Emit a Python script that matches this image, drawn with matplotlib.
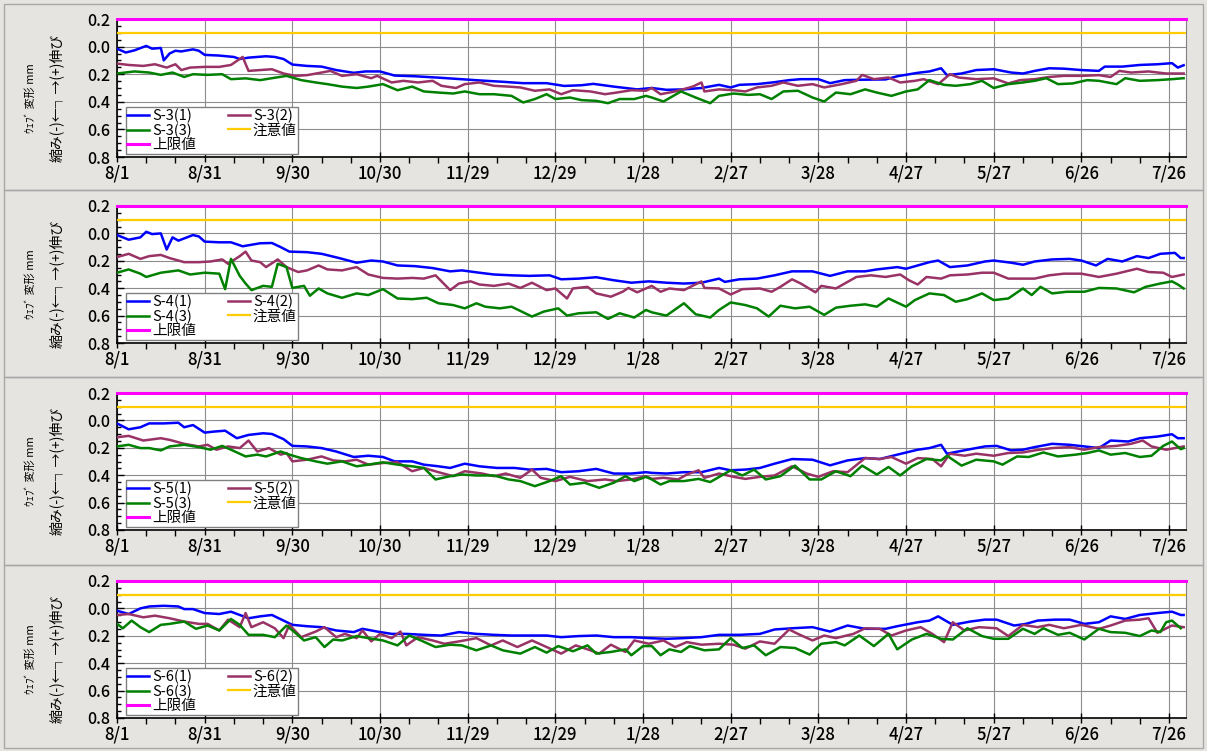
import matplotlib
matplotlib.use('Agg')
import matplotlib.pyplot as plt
from matplotlib.patches import Rectangle
from matplotlib.ticker import MultipleLocator, FixedLocator, FuncFormatter

plt.rcParams['font.family'] = ['Noto Sans CJK JP', 'DejaVu Sans']

# x = days since 8/1, y = web deformation (mm)
TICK_LABELS = ['8/1', '8/31', '9/30', '10/30', '11/29', '12/29', '1/28',
               '2/27', '3/28', '4/27', '5/27', '6/26', '7/26']
LIMIT = 0.2      # 上限値
CAUTION = 0.1    # 注意値

S3_1 = [(0,-0.015),(3,-0.043),(6,-0.027),(10,0.005),(12,-0.015),(15,-0.01),(16,-0.10),(18,-0.05),(20,-0.03),(22,-0.035),
        (26,-0.02),(28,-0.03),(30,-0.06),(35,-0.065),(40,-0.075),(42,-0.09),(45,-0.08),(51,-0.07),(54,-0.075),(57,-0.09),
        (60,-0.13),(65,-0.14),(70,-0.145),(75,-0.17),(81,-0.19),(85,-0.18),(90,-0.18),(95,-0.21),(102,-0.215),(110,-0.225),
        (117,-0.235),(124,-0.245),(132,-0.255),(139,-0.265),(147,-0.265),(153,-0.285),(159,-0.28),(163,-0.27),(170,-0.29),(178,-0.31),
        (183,-0.30),(188,-0.313),(194,-0.31),(200,-0.30),(206,-0.277),(210,-0.296),(213,-0.277),(219,-0.272),(225,-0.258),(230,-0.243),
        (234,-0.236),(240,-0.236),(244,-0.265),(249,-0.243),(255,-0.24),(263,-0.238),(267,-0.215),(274,-0.19),(278,-0.18),(282,-0.157),
        (284,-0.207),(289,-0.195),(294,-0.17),(300,-0.164),(306,-0.188),(310,-0.195),(314,-0.176),(319,-0.157),(324,-0.16),(330,-0.17),
        (336,-0.176),(338,-0.145),(344,-0.145),(350,-0.133),(356,-0.128),(361,-0.12),(363,-0.152),(365,-0.135)]
S3_2 = [(0,-0.123),(4,-0.133),(9,-0.14),(13,-0.128),(17,-0.152),(20,-0.128),(22,-0.17),(25,-0.152),(30,-0.147),(35,-0.147),
        (39,-0.133),(43,-0.075),(45,-0.176),(49,-0.17),(53,-0.164),(57,-0.195),(61,-0.212),(65,-0.207),(70,-0.188),(73,-0.176),
        (77,-0.212),(82,-0.2),(87,-0.229),(89,-0.212),(94,-0.26),(98,-0.248),(103,-0.26),(108,-0.248),(111,-0.284),(116,-0.30),
        (119,-0.272),(124,-0.26),(129,-0.284),(134,-0.29),(138,-0.296),(143,-0.32),(148,-0.31),(152,-0.345),(156,-0.316),(162,-0.325),
        (167,-0.345),(171,-0.333),(176,-0.316),(181,-0.32),(183,-0.30),(186,-0.345),(191,-0.325),(197,-0.29),(200,-0.26),(201,-0.325),
        (206,-0.31),(211,-0.316),(215,-0.325),(219,-0.296),(224,-0.284),(228,-0.26),(233,-0.284),(238,-0.272),(242,-0.296),(248,-0.272),
        (253,-0.248),(255,-0.205),(259,-0.236),(264,-0.224),(268,-0.26),(273,-0.248),(276,-0.236),(281,-0.272),(285,-0.2),(288,-0.224),
        (294,-0.236),(300,-0.23),(305,-0.267),(309,-0.243),(314,-0.236),(319,-0.22),(324,-0.212),(330,-0.212),(336,-0.207),(340,-0.22),
        (343,-0.176),(347,-0.188),(353,-0.18),(359,-0.195),(365,-0.195)]
S3_3 = [(0,-0.195),(6,-0.18),(11,-0.188),(15,-0.205),(19,-0.188),(23,-0.22),(26,-0.2),(31,-0.205),(36,-0.2),(39,-0.236),
        (44,-0.23),(49,-0.243),(53,-0.229),(58,-0.212),(63,-0.243),(68,-0.26),(72,-0.272),(77,-0.29),(82,-0.30),(86,-0.29),
        (91,-0.272),(96,-0.316),(101,-0.29),(105,-0.325),(110,-0.333),(115,-0.34),(119,-0.325),(124,-0.345),(129,-0.345),(135,-0.357),
        (139,-0.405),(143,-0.38),(147,-0.345),(150,-0.38),(155,-0.369),(159,-0.388),(164,-0.393),(168,-0.41),(172,-0.38),(177,-0.38),
        (181,-0.357),(183,-0.369),(187,-0.398),(193,-0.325),(198,-0.369),(203,-0.41),(206,-0.357),(211,-0.34),(216,-0.35),(220,-0.345),
        (224,-0.38),(228,-0.325),(233,-0.32),(238,-0.369),(242,-0.398),(246,-0.333),(251,-0.345),(256,-0.31),(260,-0.333),(265,-0.357),
        (270,-0.325),(274,-0.31),(278,-0.243),(283,-0.277),(287,-0.284),(292,-0.272),(296,-0.248),(300,-0.30),(305,-0.272),(310,-0.26),
        (314,-0.248),(318,-0.229),(322,-0.272),(327,-0.267),(332,-0.243),(336,-0.248),(342,-0.272),(345,-0.229),(350,-0.248),(356,-0.243),
        (361,-0.236),(365,-0.229)]

S4_1 = [(0,-0.012),(4,-0.046),(8,-0.029),(10,0.012),(12,-0.005),(15,0.0),(17,-0.118),(19,-0.029),(21,-0.053),(26,-0.012),
        (28,-0.022),(30,-0.06),(35,-0.065),(39,-0.065),(43,-0.094),(49,-0.072),(53,-0.07),(56,-0.10),(59,-0.133),(65,-0.137),
        (70,-0.149),(76,-0.18),(82,-0.214),(87,-0.198),(91,-0.205),(96,-0.234),(102,-0.239),(108,-0.253),(114,-0.277),(118,-0.27),
        (124,-0.287),(129,-0.30),(135,-0.306),(141,-0.31),(148,-0.306),(152,-0.335),(158,-0.33),(164,-0.32),(170,-0.342),(176,-0.36),
        (182,-0.35),(188,-0.36),(194,-0.366),(200,-0.36),(206,-0.33),(208,-0.354),(213,-0.335),(219,-0.33),(225,-0.306),(231,-0.277),
        (238,-0.277),(244,-0.31),(250,-0.277),(256,-0.277),(260,-0.263),(267,-0.246),(270,-0.258),(274,-0.234),(278,-0.21),(281,-0.198),
        (285,-0.246),(291,-0.234),(297,-0.205),(300,-0.198),(306,-0.214),(310,-0.229),(314,-0.205),(320,-0.19),(326,-0.186),(330,-0.198),
        (335,-0.234),(339,-0.186),(344,-0.205),(349,-0.166),(353,-0.18),(357,-0.149),(362,-0.142),(364,-0.18),(365,-0.18)]
S4_2 = [(0,-0.173),(4,-0.149),(8,-0.186),(11,-0.166),(15,-0.157),(18,-0.18),(23,-0.21),(28,-0.21),(32,-0.205),(36,-0.19),
        (38,-0.222),(42,-0.166),(44,-0.133),(46,-0.198),(49,-0.21),(51,-0.246),(55,-0.19),(58,-0.246),(62,-0.282),(65,-0.27),
        (69,-0.234),(72,-0.263),(77,-0.27),(82,-0.246),(86,-0.30),(91,-0.325),(96,-0.33),(101,-0.325),(105,-0.33),(109,-0.306),
        (114,-0.414),(117,-0.366),(121,-0.35),(124,-0.373),(129,-0.383),(134,-0.366),(138,-0.398),(142,-0.36),(147,-0.414),(150,-0.402),
        (154,-0.475),(156,-0.402),(161,-0.39),(164,-0.438),(169,-0.462),(173,-0.426),(175,-0.398),(178,-0.43),(183,-0.383),(186,-0.426),
        (189,-0.402),(194,-0.414),(200,-0.35),(201,-0.398),(206,-0.402),(210,-0.446),(214,-0.407),(220,-0.402),(224,-0.426),(227,-0.39),
        (231,-0.335),(234,-0.366),(239,-0.43),(241,-0.383),(246,-0.402),(250,-0.354),(253,-0.318),(258,-0.306),(263,-0.318),(268,-0.30),
        (271,-0.342),(274,-0.373),(277,-0.318),(282,-0.33),(285,-0.306),(291,-0.30),(296,-0.287),(300,-0.287),(305,-0.33),(310,-0.33),
        (314,-0.33),(319,-0.306),(324,-0.294),(330,-0.294),(336,-0.318),(342,-0.294),(349,-0.258),(353,-0.282),(358,-0.287),(361,-0.318),
        (365,-0.30)]
S4_3 = [(0,-0.287),(4,-0.263),(8,-0.294),(10,-0.318),(15,-0.287),(21,-0.27),(25,-0.30),(30,-0.287),(35,-0.294),(37,-0.407),
        (39,-0.186),(42,-0.31),(44,-0.366),(46,-0.414),(50,-0.383),(53,-0.39),(55,-0.222),(58,-0.246),(60,-0.398),(64,-0.383),
        (66,-0.455),(69,-0.402),(72,-0.438),(77,-0.47),(82,-0.438),(86,-0.45),(91,-0.407),(96,-0.475),(101,-0.48),(106,-0.47),
        (110,-0.51),(115,-0.523),(119,-0.547),(123,-0.51),(126,-0.535),(131,-0.547),(135,-0.535),(139,-0.576),(142,-0.607),(146,-0.571),
        (151,-0.547),(154,-0.60),(158,-0.583),(164,-0.576),(168,-0.624),(172,-0.583),(177,-0.614),(181,-0.559),(183,-0.576),(188,-0.60),
        (194,-0.51),(198,-0.59),(203,-0.614),(206,-0.559),(210,-0.504),(215,-0.523),(219,-0.547),(223,-0.607),(227,-0.528),(232,-0.547),
        (237,-0.535),(242,-0.595),(246,-0.542),(251,-0.528),(256,-0.518),(260,-0.535),(264,-0.475),(270,-0.535),(273,-0.487),(278,-0.438),
        (283,-0.45),(287,-0.499),(291,-0.48),(296,-0.438),(300,-0.487),(305,-0.475),(310,-0.402),(313,-0.45),(316,-0.39),(320,-0.438),
        (325,-0.426),(331,-0.426),(336,-0.398),(342,-0.402),(348,-0.43),(352,-0.39),(357,-0.366),(361,-0.35),(363,-0.373),(365,-0.402)]

S5_1 = [(0,-0.022),(4,-0.065),(8,-0.05),(11,-0.022),(16,-0.022),(21,-0.017),(23,-0.05),(26,-0.034),(30,-0.089),(33,-0.082),
        (37,-0.075),(41,-0.13),(45,-0.106),(50,-0.094),(53,-0.099),(57,-0.137),(60,-0.186),(65,-0.19),(70,-0.202),(75,-0.227),
        (81,-0.267),(86,-0.258),(91,-0.267),(95,-0.299),(101,-0.299),(105,-0.323),(110,-0.335),(114,-0.347),(119,-0.316),(124,-0.335),
        (130,-0.347),(136,-0.347),(141,-0.359),(147,-0.354),(152,-0.378),(158,-0.371),(164,-0.354),(170,-0.388),(176,-0.388),(181,-0.378),
        (183,-0.383),(188,-0.388),(194,-0.378),(200,-0.378),(206,-0.347),(210,-0.364),(215,-0.359),(220,-0.347),(225,-0.316),(231,-0.282),
        (238,-0.287),(244,-0.328),(250,-0.292),(256,-0.275),(261,-0.282),(267,-0.25),(274,-0.214),(278,-0.202),(282,-0.178),(284,-0.243),
        (291,-0.214),(297,-0.19),(301,-0.186),(306,-0.219),(310,-0.214),(314,-0.195),(320,-0.171),(326,-0.178),(331,-0.19),(336,-0.202),
        (340,-0.147),(346,-0.154),(350,-0.13),(356,-0.118),(361,-0.101),(363,-0.13),(365,-0.13)]
S5_2 = [(0,-0.123),(4,-0.113),(9,-0.147),(15,-0.13),(18,-0.142),(23,-0.171),(28,-0.19),(31,-0.178),(34,-0.214),(38,-0.19),
        (42,-0.202),(45,-0.147),(48,-0.227),(52,-0.202),(56,-0.25),(58,-0.238),(60,-0.299),(65,-0.287),(70,-0.263),(74,-0.292),
        (78,-0.299),(82,-0.287),(86,-0.323),(91,-0.311),(96,-0.306),(101,-0.371),(105,-0.347),(110,-0.378),(115,-0.407),(119,-0.371),
        (125,-0.388),(129,-0.407),(133,-0.388),(138,-0.419),(142,-0.359),(145,-0.419),(150,-0.443),(155,-0.412),(161,-0.443),(167,-0.431),
        (171,-0.443),(176,-0.431),(181,-0.407),(183,-0.427),(187,-0.419),(192,-0.431),(195,-0.395),(199,-0.364),(201,-0.419),(206,-0.388),
        (211,-0.412),(215,-0.427),(220,-0.412),(225,-0.402),(231,-0.335),(236,-0.388),(240,-0.412),(245,-0.371),(250,-0.378),(256,-0.275),
        (261,-0.282),(265,-0.267),(270,-0.316),(274,-0.275),(279,-0.282),(282,-0.335),(285,-0.243),(290,-0.258),(294,-0.243),(300,-0.258),
        (305,-0.238),(310,-0.234),(314,-0.219),(320,-0.202),(326,-0.195),(331,-0.214),(336,-0.195),(342,-0.186),(347,-0.171),(351,-0.147),
        (354,-0.19),(359,-0.214),(365,-0.19)]
S5_3 = [(0,-0.19),(4,-0.178),(8,-0.202),(11,-0.202),(15,-0.219),(18,-0.19),(23,-0.178),(28,-0.195),(32,-0.214),(36,-0.186),
        (39,-0.214),(44,-0.263),(48,-0.25),(51,-0.263),(56,-0.227),(59,-0.25),(63,-0.275),(68,-0.299),(72,-0.316),(77,-0.299),
        (82,-0.335),(86,-0.323),(91,-0.306),(96,-0.323),(101,-0.335),(105,-0.347),(109,-0.431),(114,-0.407),(118,-0.395),(123,-0.402),
        (129,-0.402),(134,-0.431),(138,-0.443),(143,-0.48),(148,-0.443),(152,-0.407),(155,-0.468),(160,-0.455),(165,-0.492),(170,-0.455),
        (174,-0.407),(177,-0.443),(181,-0.412),(183,-0.431),(186,-0.468),(189,-0.443),(194,-0.443),(199,-0.427),(203,-0.45),(210,-0.364),
        (214,-0.402),(218,-0.359),(222,-0.431),(227,-0.407),(232,-0.33),(237,-0.431),(241,-0.431),(246,-0.371),(251,-0.407),(255,-0.33),
        (260,-0.395),(264,-0.34),(268,-0.402),(272,-0.335),(277,-0.282),(282,-0.292),(284,-0.258),(289,-0.33),(294,-0.287),(300,-0.299),
        (303,-0.323),(308,-0.263),(312,-0.267),(317,-0.234),(322,-0.263),(328,-0.25),(332,-0.238),(336,-0.219),(340,-0.25),(345,-0.238),
        (350,-0.267),(354,-0.258),(358,-0.186),(361,-0.154),(364,-0.21),(365,-0.202)]

S6_1 = [(0,-0.017),(4,-0.041),(8,0.0),(11,0.014),(16,0.019),(21,0.014),(23,-0.005),(26,-0.005),(30,-0.034),(35,-0.041),
        (39,-0.024),(45,-0.072),(49,-0.058),(53,-0.048),(57,-0.089),(60,-0.12),(65,-0.13),(70,-0.137),(75,-0.161),(81,-0.173),
        (84,-0.149),(89,-0.169),(94,-0.186),(99,-0.186),(105,-0.193),(111,-0.198),(117,-0.173),(123,-0.186),(129,-0.193),(135,-0.198),
        (141,-0.198),(147,-0.198),(152,-0.21),(158,-0.202),(164,-0.198),(170,-0.21),(176,-0.21),(182,-0.217),(188,-0.222),(194,-0.217),
        (200,-0.21),(206,-0.193),(213,-0.193),(220,-0.186),(225,-0.154),(231,-0.145),(238,-0.137),(244,-0.169),(250,-0.125),(256,-0.149),
        (263,-0.149),(267,-0.13),(274,-0.101),(278,-0.089),(281,-0.058),(286,-0.12),(292,-0.096),(297,-0.082),(301,-0.082),(307,-0.125),
        (311,-0.113),(315,-0.089),(321,-0.082),(326,-0.082),(331,-0.113),(336,-0.101),(340,-0.058),(345,-0.077),(350,-0.048),(356,-0.034),
        (361,-0.024),(364,-0.048),(365,-0.048)]
S6_2 = [(0,-0.048),(4,-0.041),(9,-0.065),(13,-0.053),(18,-0.072),(23,-0.096),(28,-0.113),(31,-0.113),(35,-0.161),(38,-0.082),
        (42,-0.137),(44,-0.034),(46,-0.137),(50,-0.101),(54,-0.145),(57,-0.217),(59,-0.12),(63,-0.21),(68,-0.169),(71,-0.137),
        (75,-0.21),(78,-0.186),(82,-0.217),(84,-0.161),(87,-0.241),(90,-0.186),(94,-0.217),(97,-0.169),(99,-0.27),(103,-0.21),
        (108,-0.234),(112,-0.258),(117,-0.241),(123,-0.217),(128,-0.27),(132,-0.234),(137,-0.282),(142,-0.234),(147,-0.282),(152,-0.33),
        (157,-0.27),(162,-0.306),(165,-0.33),(169,-0.265),(174,-0.318),(177,-0.234),(182,-0.258),(187,-0.234),(191,-0.282),(195,-0.246),
        (200,-0.265),(206,-0.258),(211,-0.265),(215,-0.294),(220,-0.241),(225,-0.258),(230,-0.154),(233,-0.186),(238,-0.234),(242,-0.198),
        (246,-0.217),(252,-0.186),(256,-0.145),(261,-0.149),(265,-0.198),(270,-0.161),(275,-0.137),(279,-0.186),(283,-0.246),(286,-0.101),
        (290,-0.161),(295,-0.137),(301,-0.145),(305,-0.202),(310,-0.12),(315,-0.137),(319,-0.12),(324,-0.145),(330,-0.12),(336,-0.149),
        (340,-0.125),(345,-0.089),(350,-0.082),(353,-0.072),(356,-0.178),(361,-0.125),(365,-0.137)]
S6_3 = [(0,-0.113),(2,-0.145),(5,-0.089),(8,-0.137),(11,-0.173),(15,-0.12),(18,-0.113),(23,-0.096),(27,-0.149),(31,-0.125),
        (35,-0.161),(39,-0.077),(42,-0.12),(45,-0.193),(50,-0.193),(54,-0.21),(58,-0.125),(61,-0.178),(64,-0.234),(68,-0.21),
        (71,-0.282),(74,-0.227),(77,-0.234),(82,-0.202),(86,-0.217),(91,-0.234),(96,-0.27),(100,-0.198),(104,-0.234),(109,-0.282),
        (114,-0.265),(118,-0.27),(123,-0.306),(128,-0.27),(132,-0.306),(138,-0.33),(143,-0.282),(147,-0.323),(151,-0.275),(156,-0.313),
        (161,-0.27),(164,-0.33),(169,-0.318),(174,-0.299),(176,-0.342),(180,-0.275),(183,-0.275),(186,-0.342),(189,-0.299),(193,-0.318),
        (196,-0.275),(201,-0.306),(206,-0.299),(210,-0.217),(214,-0.289),(218,-0.27),(222,-0.342),(227,-0.282),(232,-0.289),(237,-0.337),
        (241,-0.258),(246,-0.246),(249,-0.27),(254,-0.198),(259,-0.275),(264,-0.186),(267,-0.299),(272,-0.227),(277,-0.186),(282,-0.222),
        (286,-0.227),(291,-0.145),(296,-0.202),(300,-0.222),(305,-0.222),(310,-0.149),(314,-0.186),(317,-0.145),(322,-0.193),(326,-0.178),
        (331,-0.227),(336,-0.149),(340,-0.173),(345,-0.178),(350,-0.202),(354,-0.161),(357,-0.173),(359,-0.101),(361,-0.089),(364,-0.145)]

groups = [('S-3', S3_1, S3_2, S3_3),
          ('S-4', S4_1, S4_2, S4_3),
          ('S-5', S5_1, S5_2, S5_3),
          ('S-6', S6_1, S6_2, S6_3)]
colors = ['#0000ff', '#993366', '#008000']

W, H = 1207, 751
fig = plt.figure(figsize=(W / 100, H / 100), dpi=100)
fig.patch.set_facecolor('#e5e4e0')

# panel frames and axes boxes, in pixels from the top
frames = [(4, 190), (190, 377), (377, 565), (565, 748)]
boxes = [(19, 157), (206, 343), (393, 530), (581, 718)]
left, right = 117, 1186

for (ft, fb) in frames:
    fig.add_artist(Rectangle((4 / W, 1 - fb / H), 1199 / W, (fb - ft) / H,
                             transform=fig.transFigure, fill=False,
                             edgecolor='#a8a8a8', lw=1))

for (name, s1, s2, s3), (top, bot) in zip(groups, boxes):
    ax = fig.add_axes([left / W, 1 - bot / H, (right - left) / W, (bot - top) / H])
    ax.set_facecolor('white')

    lines = []
    for k, (ser, c) in enumerate(zip((s1, s2, s3), colors)):
        xs = [p[0] for p in ser]
        ys = [p[1] for p in ser]
        ln, = ax.plot(xs, ys, color=c, lw=1.8, label=f'{name}({k + 1})', zorder=3)
        lines.append(ln)
    lim = ax.axhline(LIMIT, color='#ff00ff', lw=2.2, label='上限値', clip_on=False, zorder=4)
    cau = ax.axhline(CAUTION, color='#ffcc00', lw=1.6, label='注意値', zorder=4)

    ax.set_xlim(0, 365.8)
    ax.set_ylim(-0.8, 0.2)
    ax.xaxis.set_major_locator(FixedLocator([30 * i for i in range(len(TICK_LABELS))]))
    ax.set_xticklabels(TICK_LABELS)
    ax.xaxis.set_minor_locator(MultipleLocator(10))
    ax.yaxis.set_major_locator(MultipleLocator(0.2))
    ax.yaxis.set_minor_locator(MultipleLocator(0.05))
    ax.yaxis.set_major_formatter(FuncFormatter(lambda v, p: f'{abs(v):.1f}'))

    ax.tick_params(axis='x', which='major', direction='inout', length=7, width=1,
                   labelsize=12, pad=2)
    ax.tick_params(axis='x', which='minor', direction='out', length=4, width=1)
    ax.tick_params(axis='y', which='major', direction='in', length=5, width=1,
                   labelsize=11.5, pad=5)
    ax.tick_params(axis='y', which='minor', direction='in', length=3, width=1)
    for lab in ax.get_xticklabels() + ax.get_yticklabels():
        lab.set_fontweight('medium')

    ax.grid(True, which='major', color='#8c8c8c', lw=0.8)
    for s in ('left', 'bottom'):
        ax.spines[s].set_color('black')
        ax.spines[s].set_linewidth(1.2)
    for s in ('top', 'right'):
        ax.spines[s].set_color('#808080')

    ax.text(-0.081, 0.43, 'ｳｪﾌﾞ 変形 mm', transform=ax.transAxes, rotation=90,
            ha='center', va='center', fontsize=8)
    ax.text(-0.057, 0.43, '縮み(-)←┐→(+)伸び', transform=ax.transAxes, rotation=90,
            ha='center', va='center', fontsize=10)

    handles = [lines[0], lines[2], lim, lines[1], cau]
    leg = ax.legend(handles=handles, labels=[h.get_label() for h in handles],
                    ncol=2, loc='lower left', bbox_to_anchor=(0.008, 0.022),
                    borderaxespad=0, fontsize=10.5, handlelength=1.5,
                    handletextpad=0.2, columnspacing=2.2, labelspacing=0.02,
                    borderpad=0.12, fancybox=False, framealpha=1, edgecolor='#808080')
    leg.get_frame().set_linewidth(1)
    leg.set_zorder(5)

fig.savefig('out.png', dpi=100, facecolor=fig.get_facecolor())
